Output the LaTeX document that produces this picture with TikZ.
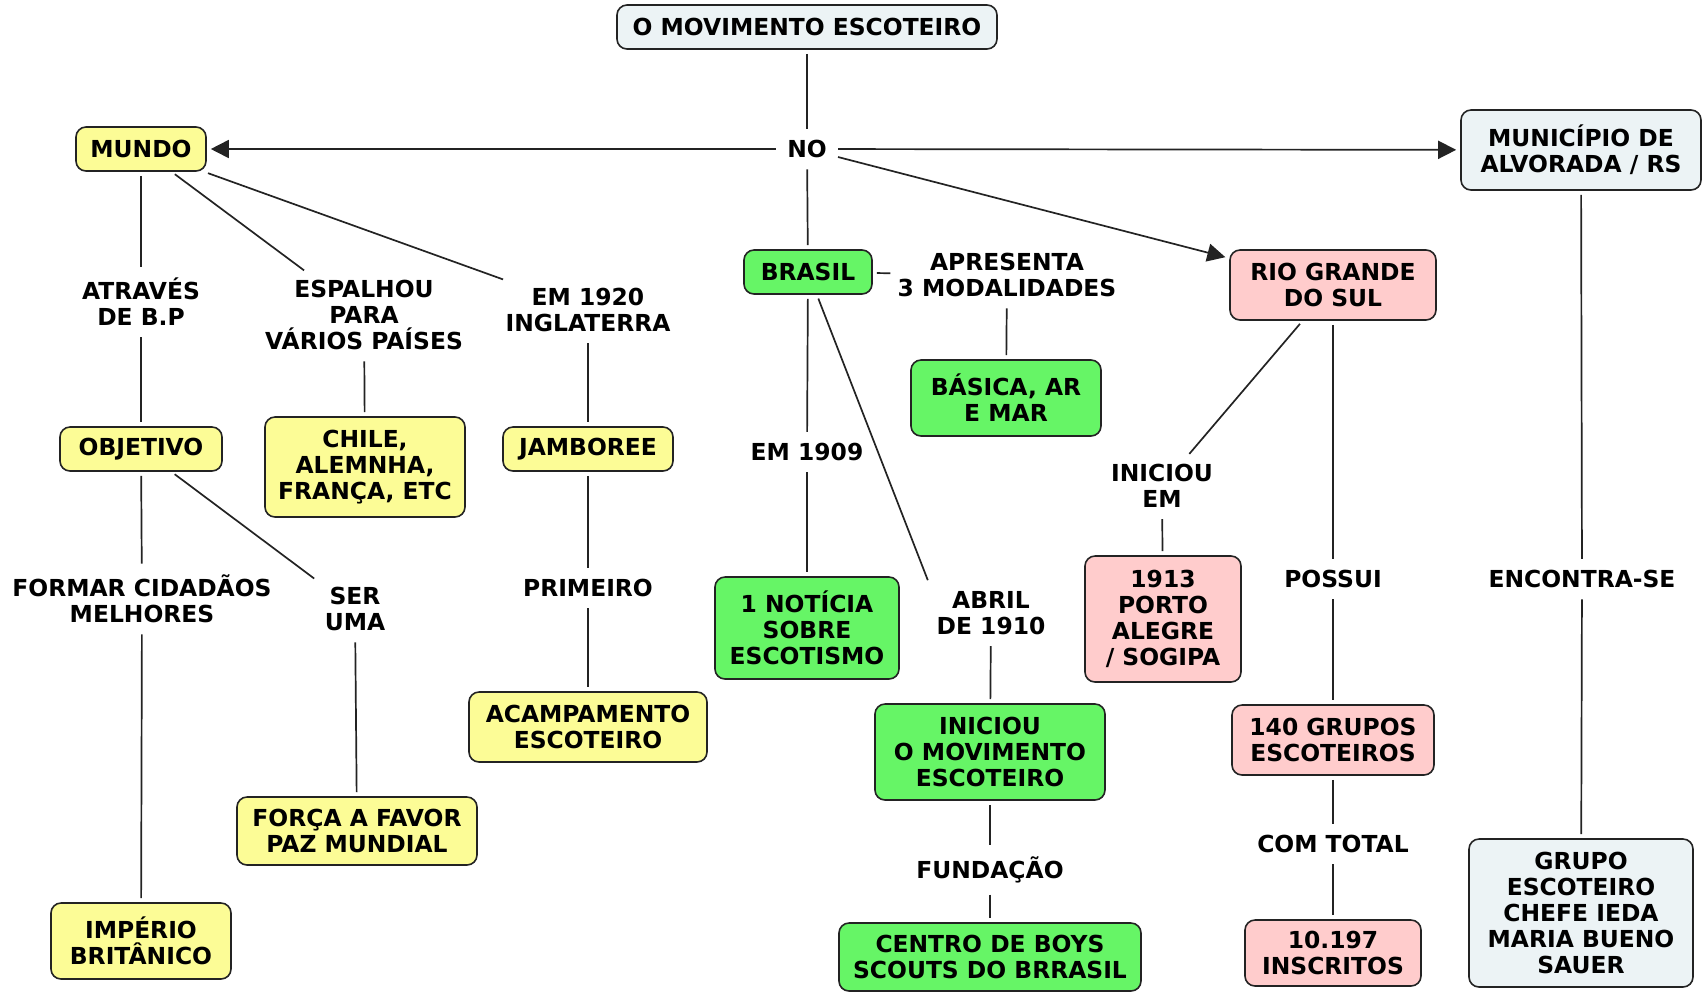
\documentclass[tikz,border=0pt]{standalone}
\usepackage{fontspec}
\setmainfont{DejaVu Sans}
\usepackage{xcolor}
\usetikzlibrary{arrows.meta}

\definecolor{mapyellow}{RGB}{252,252,150}
\definecolor{mapgreen}{RGB}{102,245,102}
\definecolor{mappink}{RGB}{255,204,204}
\definecolor{mapgrey}{RGB}{236,243,245}
\definecolor{mapline}{RGB}{35,35,35}

\begin{document}
\begin{tikzpicture}[
  x=0.5pt, y=-0.5pt,
  every node/.style={font=\fontsize{11.7}{13}\selectfont\bfseries},
  box/.style={rectangle, draw=mapline, line width=0.8pt, rounded corners=5pt,
              align=center, inner sep=2pt},
  yel/.style={box, fill=mapyellow},
  grn/.style={box, fill=mapgreen},
  pnk/.style={box, fill=mappink},
  gry/.style={box, fill=mapgrey},
  lbl/.style={align=center, inner sep=3.5pt},
  link/.style={draw=mapline, line width=0.85pt, shorten <=2pt, shorten >=2pt},
  arrow/.style={link, -{Triangle[length=9pt, width=9pt]}}
]
\useasboundingbox (0,0) rectangle (1704,993);

\node[gry, minimum width=190pt, minimum height=22pt] (title) at (807,27) {O MOVIMENTO ESCOTEIRO};
\node[lbl] (no) at (807,149) {NO};
\node[yel, minimum width=65pt, minimum height=22pt] (mundo) at (141,149) {MUNDO};
\node[gry, minimum width=120pt, minimum height=40pt] (munic) at (1581,150) {MUNICÍPIO DE\\ALVORADA / RS};
\node[grn, minimum width=64pt, minimum height=22pt] (brasil) at (808,272) {BRASIL};
\node[lbl] (apres) at (1007,275) {APRESENTA\\3 MODALIDADES};
\node[pnk, minimum width=103pt, minimum height=35pt] (rgs) at (1333,285) {RIO GRANDE\\DO SUL};

\node[lbl] (atraves) at (141,302) {ATRAVÉS\\DE B.P};
\node[lbl] (espalhou) at (364,315) {ESPALHOU\\PARA\\VÁRIOS PAÍSES};
\node[lbl] (em1920) at (588,310) {EM 1920\\INGLATERRA};
\node[grn, minimum width=95pt, minimum height=38pt] (basica) at (1006,398) {BÁSICA, AR\\E MAR};

\node[yel, minimum width=81pt, minimum height=22pt] (objetivo) at (141,449) {OBJETIVO};
\node[yel, minimum width=100pt, minimum height=50pt] (chile) at (365,467) {CHILE,\\ALEMNHA,\\FRANÇA, ETC};
\node[yel, minimum width=85pt, minimum height=22pt] (jamboree) at (588,449) {JAMBOREE};
\node[lbl] (em1909) at (807,452) {EM 1909};
\node[lbl] (iniciouem) at (1162,486) {INICIOU\\EM};
\node[pnk, minimum width=78pt, minimum height=63pt] (porto) at (1163,619) {1913\\PORTO\\ALEGRE\\/ SOGIPA};

\node[lbl] (formar) at (142,599) {FORMAR CIDADÃOS\\MELHORES};
\node[lbl] (seruma) at (355,609) {SER\\UMA};
\node[lbl] (primeiro) at (588,588) {PRIMEIRO};
\node[grn, minimum width=92pt, minimum height=51pt] (noticia) at (807,628) {1 NOTÍCIA\\SOBRE\\ESCOTISMO};
\node[lbl] (abril) at (991,613) {ABRIL\\DE 1910};
\node[lbl] (possui) at (1333,579) {POSSUI};
\node[lbl] (encontra) at (1582,579) {ENCONTRA-SE};

\node[yel, minimum width=119pt, minimum height=35pt] (acamp) at (588,727) {ACAMPAMENTO\\ESCOTEIRO};
\node[grn, minimum width=115pt, minimum height=48pt] (iniciou) at (990,752) {INICIOU\\O MOVIMENTO\\ESCOTEIRO};
\node[pnk, minimum width=101pt, minimum height=35pt] (grupos) at (1333,740) {140 GRUPOS\\ESCOTEIROS};
\node[yel, minimum width=120pt, minimum height=34pt] (forca) at (357,831) {FORÇA A FAVOR\\PAZ MUNDIAL};
\node[lbl] (comtotal) at (1333,844) {COM TOTAL};
\node[lbl] (fundacao) at (990,870) {FUNDAÇÃO};

\node[yel, minimum width=90pt, minimum height=38pt] (imperio) at (141,941) {IMPÉRIO\\BRITÂNICO};
\node[grn, minimum width=151pt, minimum height=34pt] (centro) at (990,957) {CENTRO DE BOYS\\SCOUTS DO BRRASIL};
\node[pnk, minimum width=88pt, minimum height=33pt] (inscritos) at (1333,953) {10.197\\INSCRITOS};
\node[gry, minimum width=112pt, minimum height=74pt] (grupo) at (1581,913) {GRUPO\\ESCOTEIRO\\CHEFE IEDA\\MARIA BUENO\\SAUER};

\draw[link] (title) -- (no);
\draw[arrow] (no) -- (mundo);
\draw[arrow] (no) -- (munic);
\draw[link] (no) -- (brasil);
\draw[arrow] (no) -- (rgs);

\draw[link] (mundo) -- (atraves);
\draw[link] (atraves) -- (objetivo);
\draw[link] (mundo) -- (espalhou);
\draw[link] (espalhou) -- (chile);
\draw[link] (mundo) -- (em1920);
\draw[link] (em1920) -- (jamboree);

\draw[link] (objetivo) -- (formar);
\draw[link] (formar) -- (imperio);
\draw[link] (objetivo) -- (seruma);
\draw[link] (seruma) -- (forca);
\draw[link] (jamboree) -- (primeiro);
\draw[link] (primeiro) -- (acamp);

\draw[link, shorten >=0pt] (brasil) -- (apres);
\draw[link] (apres) -- (basica);
\draw[link] (brasil) -- (em1909);
\draw[link] (em1909) -- (noticia);
\draw[link] (brasil) -- (abril.north west);
\draw[link] (abril) -- (iniciou);
\draw[link] (iniciou) -- (fundacao);
\draw[link] (fundacao) -- (centro);

\draw[link] (rgs) -- (iniciouem);
\draw[link] (iniciouem) -- (porto);
\draw[link] (rgs) -- (possui);
\draw[link] (possui) -- (grupos);
\draw[link] (grupos) -- (comtotal);
\draw[link] (comtotal) -- (inscritos);

\draw[link] (munic) -- (encontra);
\draw[link] (encontra) -- (grupo);
\end{tikzpicture}
\end{document}
